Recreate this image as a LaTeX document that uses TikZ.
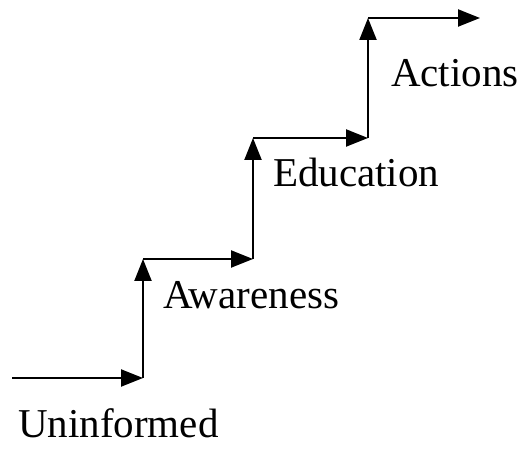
\documentclass[tikz,border=0pt]{standalone}
\usepackage{fontspec}
\setmainfont{Liberation Serif}
\usetikzlibrary{arrows.meta}

\begin{document}
\begin{tikzpicture}[x=1pt, y=1pt, line width=2.2pt,
    stair/.style={-{Triangle[length=22pt,width=17pt]}},
    stage/.style={anchor=base west, inner sep=0pt, font=\fontsize{41}{45}\selectfont}]
    \useasboundingbox (0,0) rectangle (519,450);

    % Corners of the stairs
    \coordinate (S0) at (12,72);
    \coordinate (S1) at (143,72);
    \coordinate (S2) at (143,191);
    \coordinate (S3) at (253,191);
    \coordinate (S4) at (253,312);
    \coordinate (S5) at (368,312);
    \coordinate (S6) at (368,432);
    \coordinate (S7) at (480,432);

    % Steps
    \draw[stair] (S0) -- (S1);
    \draw[stair] (S1) -- (S2);
    \draw[stair] (S2) -- (S3);
    \draw[stair] (S3) -- (S4);
    \draw[stair] (S4) -- (S5);
    \draw[stair] (S5) -- (S6);
    \draw[stair] (S6) -- (S7);

    % Labels
    \node[stage] (uninformed) at (17,13) {Uninformed};
    \node[stage] (awareness) at (162,142) {Awareness};
    \node[stage] (education) at (272,263) {Education};
    \node[stage] (actions) at (390,363) {Actions};

\end{tikzpicture}
\end{document}
